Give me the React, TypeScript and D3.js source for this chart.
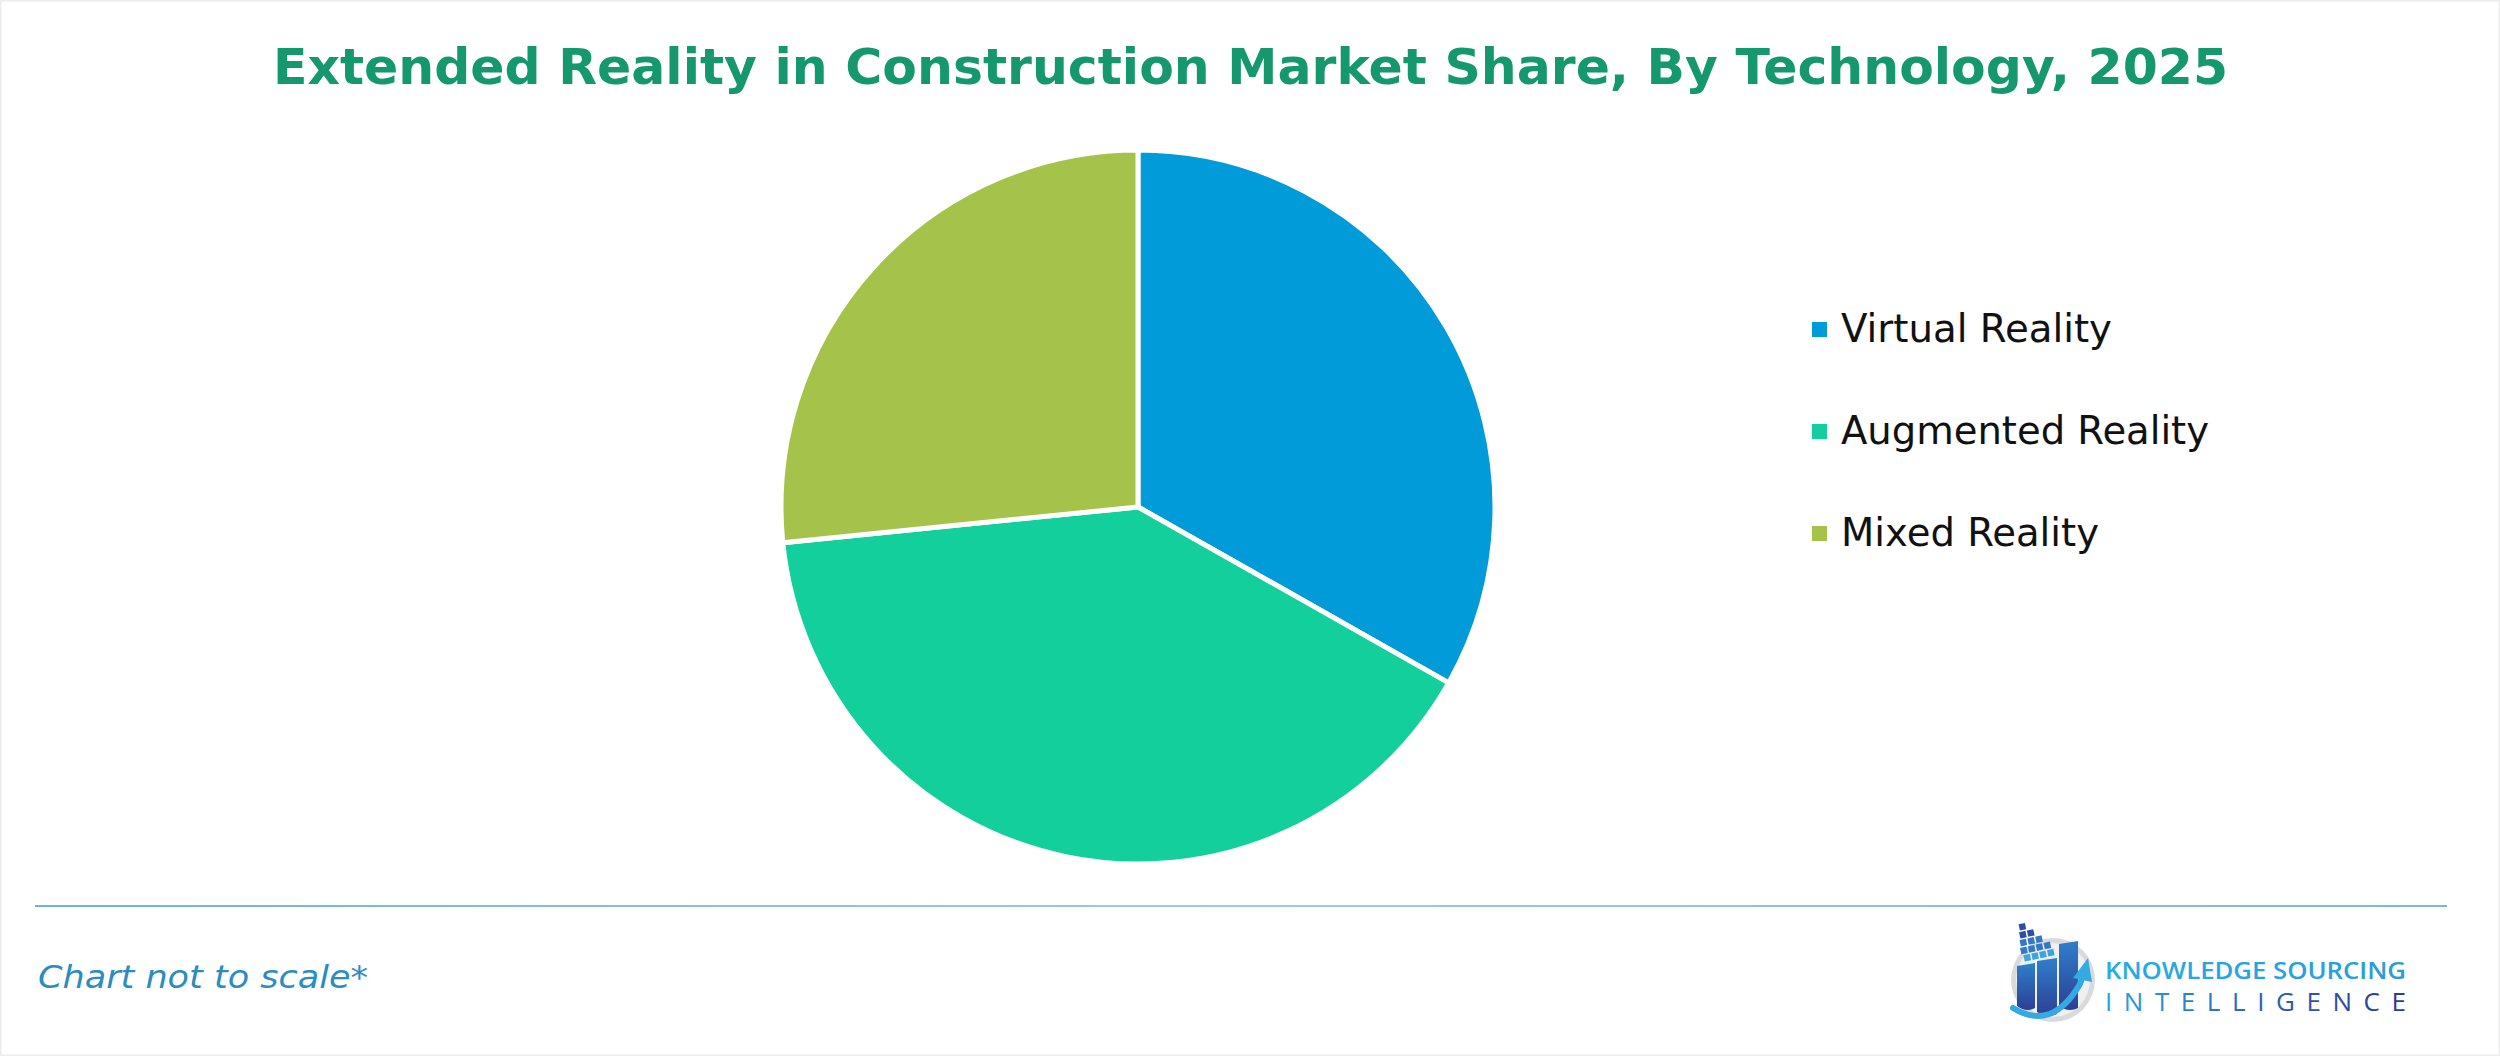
import { useEffect, useRef } from "react";
import * as d3 from "d3";

const technologies = ["Virtual Reality", "Augmented Reality", "Mixed Reality"];
const shares = [33.2, 40.2, 26.6];
const sliceColors = ["#009bd8", "#12cf9b", "#a5c24a"];
const legendTextWidths = [271, 368, 258];

const TITLE = "Extended Reality in Construction Market Share, By Technology, 2025";
const NOTE = "Chart not to scale*";

const W = 2500;
const H = 1056;

export default function App() {
  const ref = useRef<SVGSVGElement | null>(null);

  useEffect(() => {
    document.body.style.margin = "0";
    const svg = d3.select(ref.current!);
    svg.selectAll("*").remove();

    const defs = svg.append("defs");
    const g1 = defs.append("linearGradient").attr("id", "ksiTop").attr("x1", "0").attr("x2", "1");
    g1.append("stop").attr("offset", "0").attr("stop-color", "#27ace2");
    g1.append("stop").attr("offset", "1").attr("stop-color", "#2a9bd9");
    const g2 = defs.append("linearGradient").attr("id", "ksiBottom").attr("x1", "0").attr("x2", "1");
    g2.append("stop").attr("offset", "0").attr("stop-color", "#27a6de");
    g2.append("stop").attr("offset", "0.55").attr("stop-color", "#2f5fae");
    g2.append("stop").attr("offset", "1").attr("stop-color", "#2d3a8a");
    const g3 = defs.append("linearGradient").attr("id", "hull").attr("x1", "0").attr("x2", "0").attr("y1", "0").attr("y2", "1");
    g3.append("stop").attr("offset", "0").attr("stop-color", "#2f7fca");
    g3.append("stop").attr("offset", "1").attr("stop-color", "#2c3f95");
    const g4 = defs.append("linearGradient").attr("id", "rule").attr("x1", "0").attr("x2", "1");
    g4.append("stop").attr("offset", "0").attr("stop-color", "#6fb3d8");
    g4.append("stop").attr("offset", "0.5").attr("stop-color", "#9ccbe6");
    g4.append("stop").attr("offset", "1").attr("stop-color", "#7ab8dc");

    svg.append("rect").attr("width", W).attr("height", H).attr("fill", "#ffffff")
      .attr("stroke", "#ececec").attr("stroke-width", 3);

    // title
    svg.append("text")
      .attr("x", 273).attr("y", 84)
      .attr("textLength", 1955).attr("lengthAdjust", "spacingAndGlyphs")
      .attr("font-family", "'DejaVu Sans', Verdana, sans-serif")
      .attr("font-weight", 700).attr("font-size", 50)
      .attr("fill", "#16986f")
      .text(TITLE);

    // pie
    const cx = 1138, cy = 507, r = 357;
    const pie = d3.pie<number>().sort(null).value((d) => d);
    const arc = d3.arc<d3.PieArcDatum<number>>().innerRadius(0).outerRadius(r);
    svg.append("g").attr("transform", `translate(${cx},${cy})`)
      .selectAll("path")
      .data(pie(shares))
      .join("path")
      .attr("d", arc)
      .attr("fill", (_d, i) => sliceColors[i])
      .attr("stroke", "#ffffff")
      .attr("stroke-width", 5)
      .attr("stroke-linejoin", "round");

    // legend
    const ly = d3.scalePoint<string>().domain(technologies).range([342, 546]);
    const leg = svg.append("g").selectAll("g").data(technologies).join("g")
      .attr("transform", (d) => `translate(1812,${ly(d)})`);
    leg.append("rect").attr("x", 0).attr("y", -20).attr("width", 15).attr("height", 15)
      .attr("fill", (_d, i) => sliceColors[i]);
    leg.append("text")
      .attr("x", 29).attr("y", 0)
      .attr("textLength", (_d, i) => legendTextWidths[i]).attr("lengthAdjust", "spacingAndGlyphs")
      .attr("font-family", "'DejaVu Sans', Verdana, sans-serif")
      .attr("font-size", 38.5).attr("fill", "#111111")
      .text((d) => d);

    // footer rule + note
    svg.append("rect").attr("x", 35).attr("y", 905).attr("width", 2412).attr("height", 2).attr("fill", "url(#rule)");
    svg.append("text")
      .attr("x", 38).attr("y", 988)
      .attr("textLength", 330).attr("lengthAdjust", "spacingAndGlyphs")
      .attr("font-family", "'DejaVu Sans', Verdana, sans-serif")
      .attr("font-style", "italic").attr("font-size", 32)
      .attr("fill", "#2a8cbf")
      .text(NOTE);

    // logo
    const logo = svg.append("g");
    logo.append("circle").attr("cx", 2053).attr("cy", 980).attr("r", 42).attr("fill", "#d9dadc");
    logo.append("circle").attr("cx", 2053).attr("cy", 980).attr("r", 37).attr("fill", "#eef0f2");
    // hull columns
    const cols = [
      { x: 2017, top: 966, w: 18, bot: 1008 },
      { x: 2037, top: 961, w: 20, bot: 1014 },
      { x: 2059, top: 944, w: 19, bot: 1008 },
    ];
    cols.forEach((c) => {
      logo.append("path")
        .attr("d", `M${c.x},${c.top} L${c.x + c.w},${c.top - 3} L${c.x + c.w},${c.bot} Q${c.x + c.w / 2},${c.bot + 5} ${c.x},${c.bot - 2} Z`)
        .attr("fill", "url(#hull)");
    });
    // container blocks
    const rows = [1, 2, 3, 4, 4];
    rows.forEach((n, ri) => {
      for (let k = 0; k < n; k++) {
        logo.append("rect")
          .attr("x", 2020 + k * 8 + (ri === 4 ? 3 : 0) + ri * 0.5)
          .attr("y", 922 + ri * 8)
          .attr("width", 6.5).attr("height", 6.5)
          .attr("transform", `rotate(-12,${2030},${930 + ri * 8})`)
          .attr("fill", ri < 2 ? "#2c4f9e" : ri < 4 ? "#3578c4" : "#3aa6e0");
      }
    });
    // arrow
    logo.append("path")
      .attr("d", "M2013,1008 Q2052,1032 2080,984 L2083,975")
      .attr("fill", "none").attr("stroke", "#35a9e1").attr("stroke-width", 6).attr("stroke-linecap", "round");
    logo.append("path")
      .attr("d", "M2073,978 L2088,958 L2092,982 Z")
      .attr("fill", "#35a9e1");

    logo.append("text")
      .attr("x", 2105).attr("y", 979)
      .attr("textLength", 301).attr("lengthAdjust", "spacingAndGlyphs")
      .attr("font-family", "'Open Sans', Lato, sans-serif")
      .attr("font-weight", 600).attr("font-size", 23)
      .attr("fill", "url(#ksiTop)")
      .text("KNOWLEDGE SOURCING");
    logo.append("text")
      .attr("x", 2105).attr("y", 1011)
      .attr("textLength", 301).attr("lengthAdjust", "spacing")
      .attr("font-family", "'Open Sans', Lato, sans-serif")
      .attr("font-weight", 400).attr("font-size", 26)
      .attr("fill", "url(#ksiBottom)")
      .text("INTELLIGENCE");
  }, []);

  return <svg ref={ref} width={W} height={H} style={{ display: "block" }} />;
}
